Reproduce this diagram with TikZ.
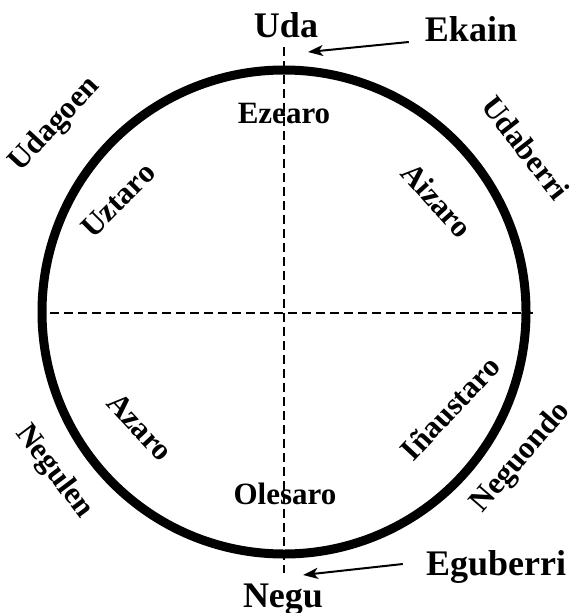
\documentclass[tikz,border=0pt]{standalone}
\usepackage{fontspec}
\setmainfont{Liberation Serif}
\usetikzlibrary{arrows.meta}
\begin{document}
\begin{tikzpicture}[x=1pt,y=-1pt,
  big/.style={font=\fontsize{36}{36}\selectfont\bfseries, inner sep=0pt, anchor=base},
  lbl/.style={font=\fontsize{31}{31}\selectfont\bfseries, inner sep=0pt},
  dsh/.style={line width=2.5pt, dash pattern=on 9pt off 5pt},
  arr/.style={line width=2pt, -{Stealth[length=15pt,width=11pt,inset=4pt]}},
  ring/.style={circle, draw, line width=9pt, minimum size=484pt, inner sep=0pt}]
\useasboundingbox (0,0) rectangle (571,613);
\node[ring] (ring) at (284,312) {};
\coordinate (vt) at (284,47);
\coordinate (vb) at (284,573);
\coordinate (hl) at (50,313);
\coordinate (hr) at (533,313);
\draw[dsh] (vt) -- (vb);
\draw[dsh] (hl) -- (hr);
% top and bottom labels
\node[big] (uda) at (286,37) {Uda};
\node[big] (ekain) at (471,41) {Ekain};
\node[big] (negu) at (283,607) {Negu};
\node[big] (eguberri) at (496,575) {Eguberri};
\coordinate (ektip) at (308,52);
\coordinate (egtip) at (303,575);
\draw[arr] ([shift={(-16,1)}]ekain.base west) -- (ektip);
\draw[arr] ([shift={(-23,-11)}]eguberri.base west) -- (egtip);
% inner labels
\node[lbl, anchor=base] (ezearo) at (284,123) {Ezearo};
\node[lbl, anchor=base] (olesaro) at (285,504) {Olesaro};
\node[lbl, rotate=45] (uztaro) at (118,200) {Uztaro};
\node[lbl, rotate=-48] (aizaro) at (437,200) {Aizaro};
\node[lbl, rotate=-47] (azaro) at (140,427) {Azaro};
\node[lbl, rotate=47] (inaustaro) at (450,408) {Iñaustaro};
% outer labels
\node[lbl, rotate=47] (udagoen) at (55,125) {Udagoen};
\node[lbl, rotate=-52] (udaberri) at (526,148) {Udaberri};
\node[lbl, rotate=-53] (negulen) at (54,472) {Negulen};
\node[lbl, rotate=49] (neguondo) at (521,458) {Neguondo};
\end{tikzpicture}
\end{document}
